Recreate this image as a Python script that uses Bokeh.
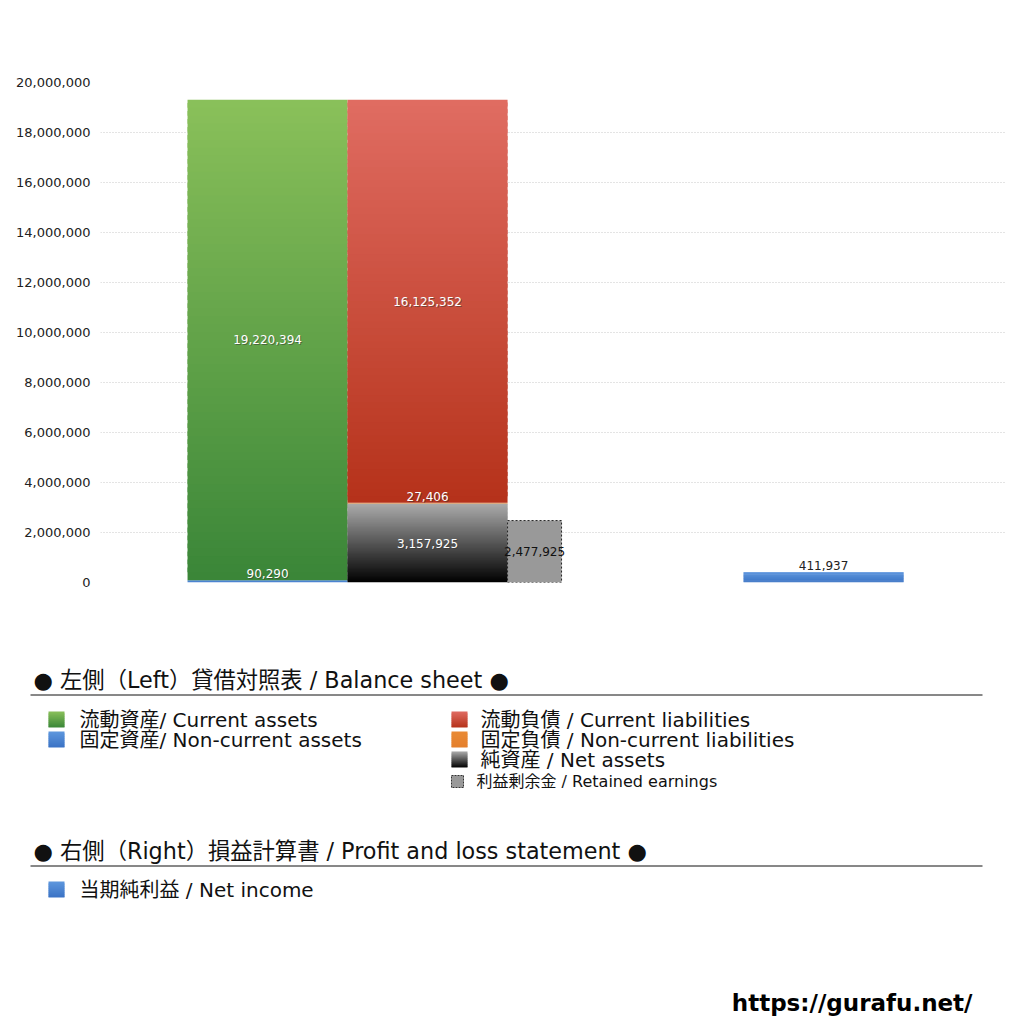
from bokeh.plotting import figure
from bokeh.models import Range1d, NumeralTickFormatter, FixedTicker
from bokeh.layouts import column
from bokeh.embed import file_html
from bokeh.resources import INLINE
from bokeh.core.properties import value

# ---------------- data ----------------
current_assets = 19220394
noncurrent_assets = 90290
current_liabilities = 16125352
noncurrent_liabilities = 27406
net_assets = 3157925
retained_earnings = 2477925
net_income = 411937

y_ticks = list(range(0, 20000001, 2000000))

header_bs = "● 左側（Left）貸借対照表 / Balance sheet ●"
header_pl = "● 右側（Right）損益計算書 / Profit and loss statement ●"
legend_left = ["流動資産/ Current assets", "固定資産/ Non-current assets"]
legend_right = ["流動負債 /  Current liabilities", "固定負債 / Non-current liabilities", "純資産 / Net assets"]
legend_retained = "利益剰余金 / Retained earnings"
legend_pl = "当期純利益 / Net income"
url_text = "https://gurafu.net/"

FONT = "DejaVu Sans, Noto Sans CJK JP"
NUMFONT = "DejaVu Sans"

# colours (bottom, top) for gradients
GREEN = ("#3a8638", "#8ac05a")
BLUE = ("#3a72c4", "#5e97de")
RED = ("#b5321a", "#e06c62")
ORANGE = ("#e47f2c", "#e98a36")
GRAY = ("#000000", "#ababab")


def hex2rgb(h):
    h = h.lstrip("#")
    return tuple(int(h[i:i + 2], 16) for i in (0, 2, 4))


def mix(c1, c2, t):
    a, b = hex2rgb(c1), hex2rgb(c2)
    return "#%02x%02x%02x" % tuple(int(round(a[i] + (b[i] - a[i]) * t)) for i in range(3))


def grad_quad(fig, left, right, bottom, top, cols, n=60):
    lefts, rights, bots, tops, colors = [], [], [], [], []
    step = (top - bottom) / n
    for i in range(n):
        b = bottom + step * i
        t = min(top, b + step * 1.6) if i < n - 1 else top
        lefts.append(left)
        rights.append(right)
        bots.append(b)
        tops.append(t)
        colors.append(mix(cols[0], cols[1], (i + 0.5) / n))
    fig.quad(left=lefts, right=rights, bottom=bots, top=tops, fill_color=colors,
             line_color=None)


# ---------------- main chart ----------------
p = figure(width=1008, height=600, output_backend="svg", toolbar_location=None,
           x_range=Range1d(0, 5.656), y_range=Range1d(0, 20000000),
           min_border_left=100, min_border_right=3, min_border_top=82, min_border_bottom=18)
p.frame_align = False
p.outline_line_color = None
p.xaxis.visible = False
p.xgrid.grid_line_color = None
p.ygrid.grid_line_color = "#c8c8c8"
p.ygrid.grid_line_dash = "1 2"
p.yaxis.ticker = FixedTicker(ticks=y_ticks)
p.yaxis.formatter = NumeralTickFormatter(format="0,0")
p.yaxis.axis_line_color = None
p.yaxis.major_tick_line_color = None
p.yaxis.minor_tick_line_color = None
p.yaxis.major_tick_out = 0
p.yaxis.major_tick_in = 0
p.yaxis.major_label_standoff = 10
p.yaxis.major_label_text_font = NUMFONT
p.yaxis.major_label_text_font_size = "13px"
p.yaxis.major_label_text_color = "#222222"

BW = 1.0
x_left = 0.544
x_right = x_left + BW
x_ret = x_right + BW
RET_W = 0.3375
x_pl = 4.019

# left column: assets
grad_quad(p, x_left, x_left + BW, 0, noncurrent_assets, BLUE, n=1)
grad_quad(p, x_left, x_left + BW, noncurrent_assets, noncurrent_assets + current_assets, GREEN)
# right column: liabilities + net assets
grad_quad(p, x_right, x_right + BW, 0, net_assets, GRAY)
grad_quad(p, x_right, x_right + BW, net_assets, net_assets + noncurrent_liabilities, ORANGE, n=1)
grad_quad(p, x_right, x_right + BW, net_assets + noncurrent_liabilities,
          net_assets + noncurrent_liabilities + current_liabilities, RED)
# retained earnings
p.quad(left=[x_ret], right=[x_ret + RET_W], bottom=[0], top=[retained_earnings],
       fill_color="#999999", line_color="#222222", line_dash="2 2", line_width=1)
# net income
grad_quad(p, x_pl, x_pl + BW, 0, net_income, BLUE, n=12)


def bar_label(x, bottom, val, color="white", shadow=True):
    small = val < 600000
    y = bottom + val if small else bottom + val / 2
    base = "bottom" if small else "middle"
    yo = -2 if small else 0
    txt = [f"{val:,}"]
    if shadow:
        p.text(x=[x], y=[y], text=txt, text_align="center", text_baseline=base,
               text_font=value(NUMFONT), text_font_size="12px", text_color="#333333",
               text_alpha=0.5, x_offset=1, y_offset=yo + 1)
    p.text(x=[x], y=[y], text=txt, text_align="center", text_baseline=base,
           text_font=value(NUMFONT), text_font_size="12px", text_color=color, y_offset=yo)


bar_label(x_left + BW / 2, noncurrent_assets, current_assets)
bar_label(x_left + BW / 2, 0, noncurrent_assets)
bar_label(x_right + BW / 2, 0, net_assets)
bar_label(x_right + BW / 2, net_assets, noncurrent_liabilities)
bar_label(x_right + BW / 2, net_assets + noncurrent_liabilities, current_liabilities)
bar_label(x_ret + RET_W / 2, 0, retained_earnings, color="#111111", shadow=False)
bar_label(x_pl + BW / 2, 0, net_income, color="#222222", shadow=False)

# ---------------- legend / text area ----------------
q = figure(width=1008, height=416, output_backend="svg", toolbar_location=None,
           x_range=Range1d(0, 1008), y_range=Range1d(1016, 600),
           min_border=0, min_border_left=0, min_border_right=0,
           min_border_top=0, min_border_bottom=0)
q.frame_align = False
q.outline_line_color = None
q.axis.visible = False
q.grid.visible = False


def qtext(x, y, t, size, style="normal", color="#111111"):
    q.text(x=[x], y=[y], text=[t], text_align="left", text_baseline="middle",
           text_font=value(FONT), text_font_size=size, text_font_style=style,
           text_color=color)


def sq(x0, y0, s, cols, dashed=False):
    if dashed:
        q.quad(left=[x0], right=[x0 + s], top=[y0], bottom=[y0 + s], fill_color="#999999",
               line_color="#333333", line_dash="2 1", line_width=1)
    else:
        n = 8
        for i in range(n):
            c = mix(cols[1], cols[0], (i + 0.5) / n)
            q.quad(left=[x0], right=[x0 + s], top=[y0 + s * i / n],
                   bottom=[min(y0 + s, y0 + s * (i + 1.6) / n)],
                   fill_color=c, line_color=None)


qtext(33, 679, header_bs, "22.3px")
q.segment(x0=[30], x1=[982], y0=[694.5], y1=[694.5], line_color="#111111", line_width=1)
left_cols = [GREEN, BLUE]
for i, (t, c) in enumerate(zip(legend_left, left_cols)):
    yy = 719 + 20 * i
    sq(48, yy - 8, 16, c)
    qtext(79, yy, t, "20px")
right_cols = [RED, ORANGE, GRAY]
for i, (t, c) in enumerate(zip(legend_right, right_cols)):
    yy = 719 + 20 * i
    sq(451, yy - 8, 16, c)
    qtext(480, yy, t, "20px")
sq(451, 775, 12, None, dashed=True)
qtext(476, 781, legend_retained, "16px")

qtext(33, 850, header_pl, "22.3px")
q.segment(x0=[30], x1=[982], y0=[865.5], y1=[865.5], line_color="#111111", line_width=1)
sq(48, 881, 16, BLUE)
qtext(79, 889, legend_pl, "20px")

q.text(x=[972], y=[1002], text=[url_text], text_align="right", text_baseline="middle",
       text_font=value(NUMFONT), text_font_size="23px", text_font_style="bold",
       text_color="#000000")

layout = column(p, q, spacing=0)
open("out.html", "w").write(file_html(layout, INLINE))
